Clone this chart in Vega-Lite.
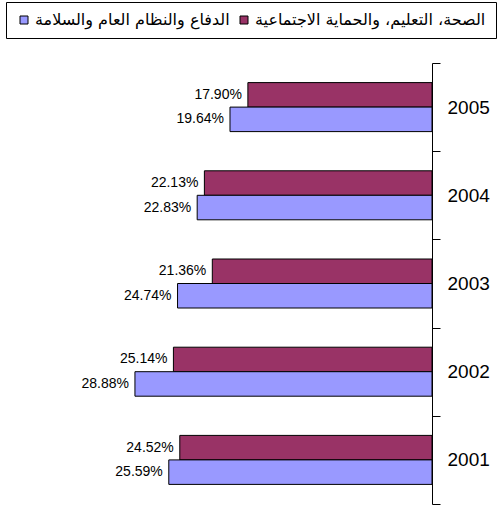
{
  "$schema": "https://vega.github.io/schema/vega-lite/v6.json",
  "width": 432,
  "height": 441,
  "autosize": "none",
  "padding": {"left": 0, "top": 63, "right": 65, "bottom": 5},
  "background": "white",
  "config": {"view": {"stroke": null}},
  "data": {
    "values": [
      {"year": "2005", "series": "الصحة، التعليم، والحماية الاجتماعية", "value": 0.1790},
      {"year": "2005", "series": "الدفاع والنظام العام والسلامة", "value": 0.1964},
      {"year": "2004", "series": "الصحة، التعليم، والحماية الاجتماعية", "value": 0.2213},
      {"year": "2004", "series": "الدفاع والنظام العام والسلامة", "value": 0.2283},
      {"year": "2003", "series": "الصحة، التعليم، والحماية الاجتماعية", "value": 0.2136},
      {"year": "2003", "series": "الدفاع والنظام العام والسلامة", "value": 0.2474},
      {"year": "2002", "series": "الصحة، التعليم، والحماية الاجتماعية", "value": 0.2514},
      {"year": "2002", "series": "الدفاع والنظام العام والسلامة", "value": 0.2888},
      {"year": "2001", "series": "الصحة، التعليم، والحماية الاجتماعية", "value": 0.2452},
      {"year": "2001", "series": "الدفاع والنظام العام والسلامة", "value": 0.2559}
    ]
  },
  "encoding": {
    "y": {
      "field": "year", "type": "nominal", "sort": "descending",
      "scale": {"paddingInner": 0, "paddingOuter": 0},
      "axis": {
        "orient": "right", "title": null, "tickBand": "extent",
        "domainColor": "black", "tickColor": "black", "tickSize": 8,
        "labelFont": "Liberation Sans", "labelFontSize": 19, "labelColor": "black",
        "labelPadding": 7, "labelAlign": "left"
      }
    },
    "yOffset": {
      "field": "series", "type": "nominal",
      "scale": {"domain": ["الصحة، التعليم، والحماية الاجتماعية", "الدفاع والنظام العام والسلامة"], "paddingInner": 0, "paddingOuter": 0.8}
    },
    "x": {
      "field": "value", "type": "quantitative",
      "scale": {"domain": [0, 0.42], "reverse": true, "nice": false},
      "axis": null
    }
  },
  "layer": [
    {
      "mark": {"type": "bar", "stroke": "black", "strokeWidth": 1},
      "encoding": {
        "color": {
          "field": "series", "type": "nominal",
          "scale": {"domain": ["الدفاع والنظام العام والسلامة", "الصحة، التعليم، والحماية الاجتماعية"], "range": ["#9999FF", "#993366"]},
          "legend": {
            "title": null, "orient": "none", "legendX": 6, "legendY": -61,
            "direction": "horizontal", "columns": 2, "columnPadding": 6,
            "symbolType": "square", "symbolSize": 64, "symbolStrokeColor": "black", "symbolStrokeWidth": 1,
            "symbolOpacity": 1,
            "labelFont": "DejaVu Sans", "labelFontSize": 16, "labelColor": "black", "labelLimit": 400, "labelOffset": 3,
            "strokeColor": "black", "fillColor": "white", "padding": 10, "cornerRadius": 0
          }
        }
      }
    },
    {
      "mark": {"type": "text", "align": "right", "baseline": "middle", "dx": -6, "font": "Liberation Sans", "fontSize": 14, "color": "black"},
      "encoding": {
        "text": {"field": "value", "type": "quantitative", "format": ".2%"}
      }
    }
  ]
}
